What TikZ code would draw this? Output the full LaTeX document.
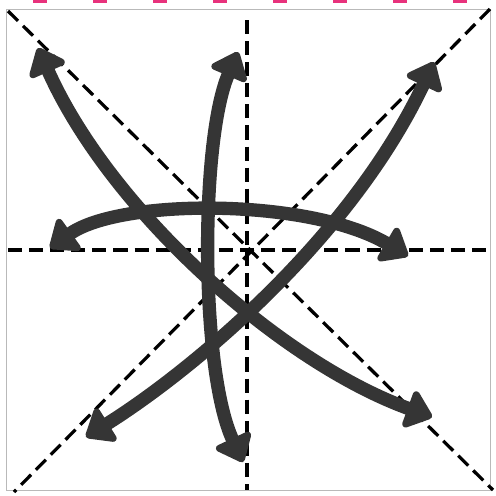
\documentclass[tikz,border=0pt]{standalone}
\usetikzlibrary{arrows.meta}
\definecolor{marker}{HTML}{353535}
\definecolor{pinkline}{HTML}{E8327C}
\begin{document}
\begin{tikzpicture}[x=0.025cm, y=-0.025cm,
  guide/.style={draw=black, line width=2.3pt, dash pattern=on 10pt off 5pt},
  stroke/.style={draw=marker, line width=9.5pt, {Triangle[length=0.7cm,width=1.1cm,round]}-{Triangle[length=0.7cm,width=1.1cm,round]}}]
\useasboundingbox (0,0) rectangle (496,496);
\foreach \x in {40,100,...,460} \draw[pinkline, line width=4pt] (\x-7,0) -- (\x+7,0);
\coordinate (fnw) at (6,9);
\coordinate (fse) at (490,490);
\draw[gray!55, line width=0.6pt] (fnw) rectangle (fse);
\coordinate (dnw) at (8,11);
\coordinate (dse) at (493,490);
\coordinate (dne) at (490,9);
\coordinate (dsw) at (14,492);
\coordinate (dn) at (247,20);
\coordinate (ds) at (247,490);
\coordinate (dw) at (8,250);
\coordinate (de) at (490,250);
\draw[guide] (dnw) -- (dse);
\draw[guide] (dne) -- (dsw);
\draw[guide] (dn) -- (ds);
\draw[guide] (dw) -- (de);
\coordinate (nw) at (38,48);
\coordinate (se) at (432,417);
\coordinate (n) at (238,52);
\coordinate (s) at (243,462);
\coordinate (ne) at (434,62);
\coordinate (sw) at (86,437);
\coordinate (w) at (50,248);
\coordinate (e) at (408,256);
\draw[stroke] (nw) .. controls (110,210) and (280,362) .. (se);
\draw[stroke] (n) .. controls (200,140) and (200,370) .. (s);
\draw[stroke] (ne) .. controls (350,240) and (190,372) .. (sw);
\draw[stroke] (w) .. controls (120,198) and (310,198) .. (e);
\end{tikzpicture}
\end{document}
